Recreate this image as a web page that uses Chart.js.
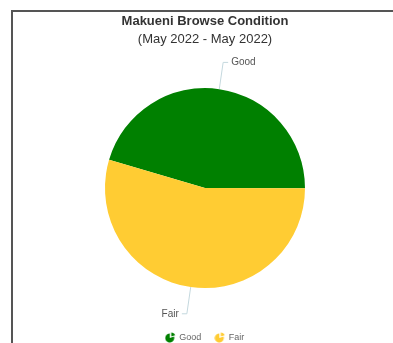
<!DOCTYPE html>
<html>
<head>
<meta charset="utf-8">
<script src="https://cdn.jsdelivr.net/npm/chart.js@4"></script>
<style>
  body { margin: 0; background: #fff; }
  #wrap { position: relative; width: 393px; height: 343px; }
  #frame {
    position: absolute; left: 11px; top: 10px; right: 0; bottom: 0;
    border-left: 2px solid #555; border-top: 2px solid #555;
  }
  #chart { position: absolute; left: 0; top: 0; }
</style>
</head>
<body>
<div id="wrap">
  <div id="frame"></div>
  <canvas id="chart" width="393" height="343"></canvas>
</div>
<script>
// Browse condition counts
const conditions = ['Good', 'Fair'];
const counts = [5, 6];
const sliceColors = ['#008000', '#FFCC33'];

// small pie icon for the legend
function pieIcon(color) {
    const c = document.createElement('canvas');
    c.width = 11; c.height = 11;
    const g = c.getContext('2d');
    g.fillStyle = color;
    g.beginPath();
    g.moveTo(5, 6);
    g.arc(5, 6, 4.5, -0.1 * Math.PI, 1.5 * Math.PI + 0.1 * Math.PI * 0);
    g.closePath();
    g.fill();
    g.beginPath();
    g.moveTo(6.5, 4.5);
    g.arc(6.5, 4.5, 4, -0.5 * Math.PI, -0.1 * Math.PI);
    g.closePath();
    g.fill();
    return c;
}

// labels with connector lines, placed from the arc geometry
const sliceLabels = {
    id: 'sliceLabels',
    afterDatasetsDraw(chart) {
        const ctx = chart.ctx;
        const meta = chart.getDatasetMeta(0);
        ctx.save();
        ctx.font = '10px "Liberation Sans", Arial, sans-serif';
        ctx.textBaseline = 'middle';
        meta.data.forEach((arc, i) => {
            const p = arc.getProps(['x', 'y', 'startAngle', 'endAngle', 'outerRadius'], true);
            const mid = (p.startAngle + p.endAngle) / 2;
            const cos = Math.cos(mid), sin = Math.sin(mid);
            const x0 = p.x + cos * p.outerRadius, y0 = p.y + sin * p.outerRadius;
            const x1 = p.x + cos * (p.outerRadius + 27), y1 = p.y + sin * (p.outerRadius + 27);
            const dir = cos >= 0 ? 1 : -1;
            const x2 = x1 + dir * 5;
            ctx.strokeStyle = '#c4d8de';
            ctx.lineWidth = 1;
            ctx.beginPath();
            ctx.moveTo(x0, y0);
            ctx.lineTo(x1, y1);
            ctx.lineTo(x2, y1);
            ctx.stroke();
            ctx.fillStyle = '#555';
            ctx.textAlign = dir > 0 ? 'left' : 'right';
            ctx.fillText(conditions[i], x2 + dir * 3, y1);
        });
        ctx.restore();
    }
};

const ctx = document.getElementById('chart').getContext('2d');
const browseChart = new Chart(ctx, {
    type: 'pie',
    data: {
        labels: conditions,
        datasets: [{
            data: counts,
            backgroundColor: sliceColors,
            borderWidth: 0,
            radius: 100
        }]
    },
    options: {
        responsive: false,
        animation: false,
        rotation: 286.4,
        layout: { padding: { left: 17, right: 0, top: 0, bottom: -9 } },
        plugins: {
            title: {
                display: true,
                text: 'Makueni Browse Condition',
                color: '#333',
                font: { family: '"Liberation Sans", Arial, sans-serif', size: 13, weight: 'bold' },
                padding: { top: 14, bottom: 2 }
            },
            subtitle: {
                display: true,
                text: '(May 2022 - May 2022)',
                color: '#333',
                font: { family: '"Liberation Sans", Arial, sans-serif', size: 13 },
                padding: { top: 0, bottom: 10 }
            },
            legend: {
                position: 'bottom',
                labels: {
                    usePointStyle: true,
                    padding: 14,
                    color: '#666',
                    font: { family: '"Liberation Sans", Arial, sans-serif', size: 9 },
                    generateLabels(chart) {
                        const items = Chart.overrides.doughnut.plugins.legend.labels.generateLabels(chart);
                        items.forEach((it, i) => { it.pointStyle = pieIcon(sliceColors[i]); });
                        return items;
                    }
                }
            },
            tooltip: { enabled: false }
        }
    },
    plugins: [sliceLabels]
});
</script>
</body>
</html>
